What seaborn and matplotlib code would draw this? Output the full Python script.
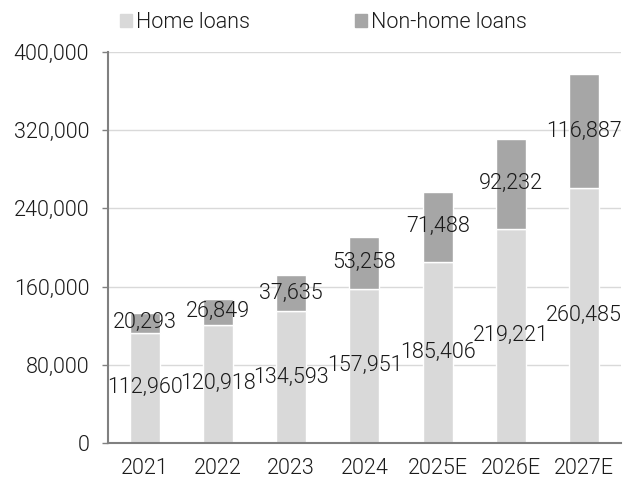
import matplotlib
matplotlib.use("Agg")
import matplotlib.pyplot as plt
import matplotlib.patches as mpatches
import seaborn as sns
import pandas as pd

years = ["2021", "2022", "2023", "2024", "2025E", "2026E", "2027E"]
home_loans = [112960, 120918, 134593, 157951, 185406, 219221, 260485]
non_home_loans = [20293, 26849, 37635, 53258, 71488, 92232, 116887]
y_ticks = [0, 80000, 160000, 240000, 320000, 400000]

HOME_COLOR = "#d9d9d9"
NON_HOME_COLOR = "#a6a6a6"
TEXT_COLOR = "#1a1a1a"
AXIS_COLOR = "#808080"
WEIGHT = 300

sns.set_theme(style="white")
plt.rcParams["font.family"] = ["Roboto", "DejaVu Sans"]
plt.rcParams["font.weight"] = WEIGHT

df = pd.DataFrame({"year": years, "home": home_loans, "non_home": non_home_loans})

fig = plt.figure(figsize=(6.24, 4.79), dpi=100)
ax = fig.add_axes([0.173, 0.0752, 0.822, 0.8162])

sns.barplot(data=df, x="year", y="home", color=HOME_COLOR, width=0.41,
            saturation=1, ax=ax, zorder=2)
sns.barplot(data=df, x="year", y="non_home", bottom=df["home"], color=NON_HOME_COLOR,
            width=0.41, saturation=1, ax=ax, zorder=2)

fs = 15.5
for i, (h, n) in enumerate(zip(home_loans, non_home_loans)):
    ax.text(i, h / 2, f"{h:,}", ha="center", va="center", fontsize=fs,
            color=TEXT_COLOR, fontweight=WEIGHT, zorder=3)
    ax.text(i, h + n / 2, f"{n:,}", ha="center", va="center", fontsize=fs,
            color=TEXT_COLOR, fontweight=WEIGHT, zorder=3)

ax.set_xlim(-0.5, 6.5)
ax.set_ylim(0, 400000)
ax.set_yticks(y_ticks)
ax.set_yticklabels([f"{v:,}" for v in y_ticks])
ax.set_xlabel("")
ax.set_ylabel("")
ax.yaxis.grid(True, color="#d9d9d9", linewidth=1, zorder=0)
ax.set_axisbelow(True)

for side in ["top", "right"]:
    ax.spines[side].set_visible(False)
for side in ["left", "bottom"]:
    ax.spines[side].set_color(AXIS_COLOR)
    ax.spines[side].set_linewidth(1.5)

ax.tick_params(axis="y", which="major", left=True, length=4.5, width=1,
               color=AXIS_COLOR, labelsize=fs, labelcolor=TEXT_COLOR, pad=9)
ax.tick_params(axis="x", which="major", bottom=False, labelsize=fs,
               labelcolor=TEXT_COLOR, pad=4.5)

handles = [mpatches.Patch(color=HOME_COLOR, label="Home loans"),
           mpatches.Patch(color=NON_HOME_COLOR, label="Non-home loans")]
fig.legend(handles=handles, loc="center", bbox_to_anchor=(0.518, 0.953),
           ncol=2, frameon=False, fontsize=fs, handlelength=0.56, handleheight=0.56,
           handletextpad=0.19, columnspacing=4.9, labelcolor=TEXT_COLOR,
           borderpad=0)

fig.savefig("out.png", dpi=100)
